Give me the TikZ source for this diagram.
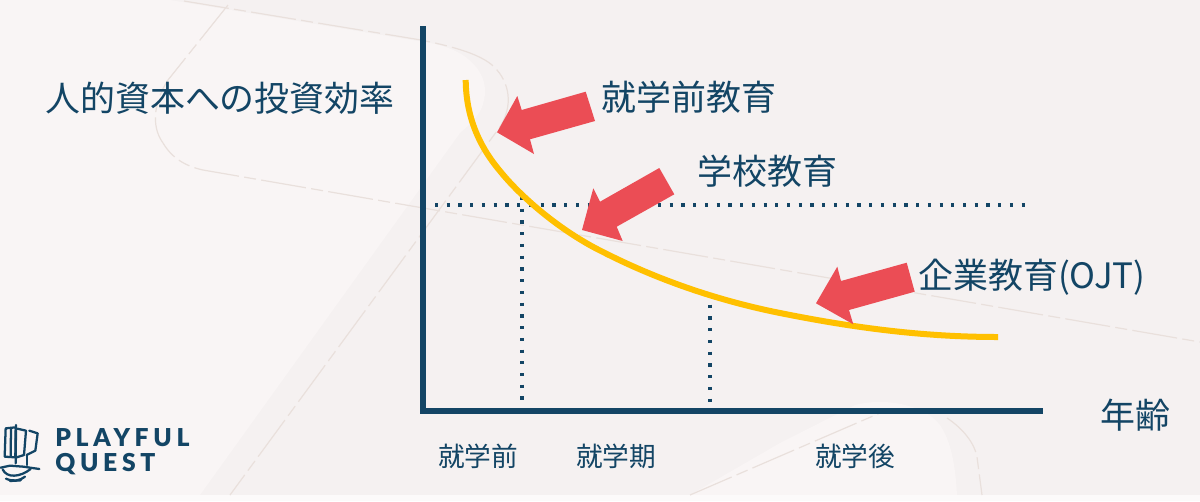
\documentclass[tikz,border=0pt]{standalone}
\usepackage{fontspec}
\newfontfamily\jpfont{Noto Sans CJK JP}
\newfontfamily\logofont[LetterSpace=19,BoldFont={Lato Black}]{Lato}
\definecolor{navy}{HTML}{134565}
\definecolor{gold}{HTML}{FFC000}
\definecolor{redarrow}{HTML}{EB4D55}
\definecolor{bgbase}{HTML}{F5F1F1}
\definecolor{bglight}{HTML}{F9F5F5}
\definecolor{bgstrip}{HTML}{FCFAFA}
\definecolor{dashline}{HTML}{E9E0DC}
\tikzset{
  bigtext/.style={text=navy,anchor=west,inner sep=0pt,font=\jpfont\fontsize{26.2}{30}\selectfont},
  smalltext/.style={text=navy,anchor=west,inner sep=0pt,font=\jpfont\fontsize{20}{24}\selectfont},
  logotext/.style={text=navy,anchor=west,inner sep=0pt,font=\logofont\bfseries\fontsize{18.5}{20}\selectfont},
  axisline/.style={draw=navy,line width=3.9pt},
  dotline/.style={draw=navy,line width=2.4pt,dash pattern=on 2.4pt off 6.4pt},
  curveline/.style={draw=gold,line width=4.5pt},
  bigarrow/.style={fill=redarrow,draw=none},
  ghost/.style={draw=dashline,line width=0.9pt,dash pattern=on 34pt off 4pt on 9pt off 4pt},
  logoline/.style={draw=navy,line width=1.7pt,line join=round,line cap=round}
}
\begin{document}
\begin{tikzpicture}[x=0.75pt,y=-0.75pt]
\useasboundingbox (0,0) rectangle (1200,501);
% background
\fill[bgbase] (0,0) rectangle (1200,501);
\fill[bglight] (170,0) -- (430,43) .. controls (470,50) and (490,75) .. (484,100) .. controls (482,112) and (475,120) .. (460,133) -- (200,495) -- (0,495) -- (0,0) -- cycle;
\fill[bglight] (690,495) -- (780,443) -- (855,405) .. controls (885,397) and (925,405) .. (940,425) .. controls (950,440) and (955,460) .. (957,495) -- cycle;
\fill[bgstrip] (0,495) rectangle (1200,501);
\draw[ghost] (184,1) -- (421,40) .. controls (455,47) and (485,55) .. (497,70) .. controls (510,85) and (515,110) .. (494,135) -- (230,495);
\draw[ghost] (228,5) -- (168,80) .. controls (155,100) and (150,125) .. (163,143) .. controls (172,158) and (185,166) .. (203,170) -- (1200,342);
\draw[ghost] (690,495) -- (880,413);
\draw[ghost] (947,418) .. controls (965,430) and (975,445) .. (977,457) -- (982,495);
% axes
\coordinate (origin) at (423,411);
\coordinate (ytop) at (423,26);
\coordinate (xend) at (1043,411);
\draw[axisline] (ytop) -- (423,413.5);
\draw[axisline] (420.5,411) -- (xend);
% dotted guides
\coordinate (hstart) at (435,205);
\coordinate (hend) at (1025,205);
\coordinate (v1top) at (522,197);
\coordinate (v1bot) at (522,405);
\coordinate (v2top) at (710,293);
\coordinate (v2bot) at (710,405);
\draw[dotline] (hstart) -- (hend);
\draw[dotline] (v1top) -- (v1bot);
\draw[dotline] (v2top) -- (v2bot);
% curve
\draw[curveline] (465.7,80) .. controls (466,115) and (478,145) .. (500,171) .. controls (520,196) and (560,231) .. (603,252) .. controls (650,276) and (710,299) .. (780,313) .. controls (850,327) and (920,337) .. (998,337);
% arrows
\fill[bigarrow] (585.7,91.7) -- (521.7,110) -- (517.3,96) -- (497,132.3) -- (534,154) -- (530,139.3) -- (595,121) -- cycle;
\fill[bigarrow] (659.3,168) -- (600,201.7) -- (593.3,188.3) -- (582,230) -- (622.7,241) -- (616.7,226.7) -- (674.3,194.3) -- cycle;
\fill[bigarrow] (906.7,262.7) -- (841,281) -- (837.3,266.7) -- (816,303.3) -- (853.3,324.3) -- (849,310) -- (914.7,291.7) -- cycle;
% labels
\node[bigtext] (ylabel) at (45,98) {人的資本への投資効率};
\node[bigtext] (l1) at (601,97) {就学前教育};
\node[bigtext] (l2) at (697,171) {学校教育};
\node[bigtext] (l3) at (918,277) {企業教育(OJT)};
\node[bigtext] (xlabel) at (1100,415) {年齢};
\node[smalltext] (p1) at (438,456) {就学前};
\node[smalltext] (p2) at (576,456) {就学期};
\node[smalltext] (p3) at (815,456) {就学後};
% logo
\node[logotext] (logo1) at (55,438) {PLAYFUL};
\node[logotext] (logo2) at (55,464) {QUEST};
\begin{scope}[shift={(0,400)},scale=1/3]
\draw[logoline] (17,85) -- (47,82) -- (46,172) -- (14,170) -- cycle;
\draw[logoline] (33,85) -- (32,170);
\draw[logoline] (52,86) -- (78,92) -- (72,165) -- (50,172);
\draw[logoline] (88,92) -- (113,100) -- (106,152) -- (80,165);
\draw[logoline] (48,75) -- (47,190);
\draw[logoline] (80,165) -- (80,195);
\draw[logoline] (2,203) -- (30,197) -- (70,200) -- (118,207);
\draw[logoline] (8,208) .. controls (20,235) and (60,232) .. (92,207);
\draw[logoline] (18,236) .. controls (40,246) and (60,242) .. (75,230);
\draw[logoline] (30,243) -- (62,241);
\end{scope}
\end{tikzpicture}
\end{document}
